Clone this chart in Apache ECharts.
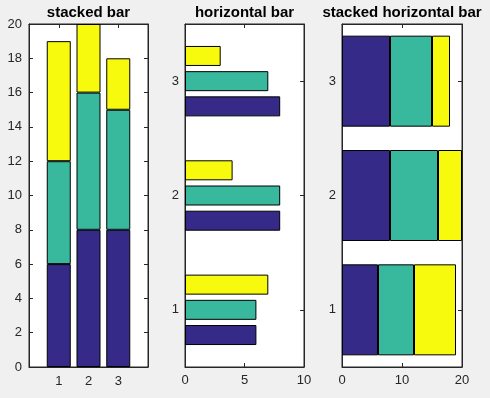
<!DOCTYPE html>
<html>
<head>
<meta charset="utf-8">
<script src="https://cdn.jsdelivr.net/npm/echarts@6/dist/echarts.min.js"></script>
<style>
  html, body { margin: 0; padding: 0; background: #f0f0f0; }
  #main { width: 490px; height: 398px; }
</style>
</head>
<body>
<div id="main"></div>
<script>
// data
var categories = ['1', '2', '3'];
var seriesA = [6, 8, 8];   // purple
var seriesB = [6, 8, 7];   // teal
var seriesC = [7, 4, 3];   // yellow
var colors = ['#352a87', '#38b99e', '#f8fa0d'];

// first plot uses xlim [0,4] -> pad the categories with empty slots at both ends
var paddedCats = ['0'].concat(categories, ['4']);
function pad(arr) { return [null].concat(arr, [null]); }

var ink = '#262626';
var font = 'Liberation Sans, Arial, sans-serif';

var chart = echarts.init(document.getElementById('main'));

var grids = [
  { left: 29, top: 24, width: 119, height: 343 },
  { left: 185, top: 24, width: 119, height: 343 },
  { left: 342, top: 24, width: 120, height: 343 }
];
grids.forEach(function (g) {
  g.show = true;
  g.backgroundColor = '#fff';
  g.borderColor = ink;
  g.borderWidth = 1;
});

var tick = { show: true, inside: true, length: 4, lineStyle: { color: ink } };
var lbl = { color: ink, fontSize: 13, fontFamily: font };
var line = { show: true, onZero: false, lineStyle: { color: ink } };

function valAxis(grid, pos, max, interval, showLabel) {
  return {
    type: 'value', gridIndex: grid, position: pos, min: 0, max: max, interval: interval,
    axisLine: line, axisTick: tick, splitLine: { show: false },
    axisLabel: Object.assign({ show: showLabel, margin: 7 }, lbl)
  };
}
// ticks on the label side sit under the bars in matlab, so only the far side shows them
function catAxis(grid, pos, showLabel) {
  return {
    type: 'category', gridIndex: grid, position: pos, data: categories,
    axisLine: line,
    axisTick: Object.assign({ alignWithLabel: true }, tick, { show: !showLabel }),
    axisLabel: Object.assign({ show: showLabel, margin: 6 }, lbl)
  };
}
function padAxis(grid, pos, showLabel) {
  return {
    type: 'category', gridIndex: grid, position: pos, data: paddedCats, boundaryGap: false,
    axisLine: line,
    axisTick: Object.assign({ interval: 0 }, tick, { show: !showLabel }),
    axisLabel: Object.assign({
      show: showLabel, margin: 8, interval: 0,
      formatter: function (v) { return categories.indexOf(v) >= 0 ? v : ''; }
    }, lbl)
  };
}

var edge = { borderColor: '#000', borderWidth: 1 };

function titleAt(text, g) {
  return {
    text: text, left: g.left + g.width / 2, top: 5, textAlign: 'center', padding: 0,
    textStyle: { fontSize: 15, fontWeight: 'bold', color: '#000', fontFamily: font }
  };
}

function bar(xi, yi, vals, color, extra) {
  return Object.assign({
    type: 'bar', xAxisIndex: xi, yAxisIndex: yi, data: vals,
    itemStyle: Object.assign({ color: color }, edge)
  }, extra);
}

var option = {
  backgroundColor: '#f0f0f0',
  animation: false,
  title: [
    titleAt('stacked bar', grids[0]),
    titleAt('horizontal bar', grids[1]),
    titleAt('stacked horizontal bar', grids[2])
  ],
  grid: grids,
  xAxis: [
    padAxis(0, 'bottom', true), padAxis(0, 'top', false),
    valAxis(1, 'bottom', 10, 5, true), valAxis(1, 'top', 10, 5, false),
    valAxis(2, 'bottom', 20, 10, true), valAxis(2, 'top', 20, 10, false)
  ],
  yAxis: [
    valAxis(0, 'left', 20, 2, true), valAxis(0, 'right', 20, 2, false),
    catAxis(1, 'left', true), catAxis(1, 'right', false),
    catAxis(2, 'left', true), catAxis(2, 'right', false)
  ],
  series: [
    // stacked bar
    bar(0, 0, pad(seriesA), colors[0], { stack: 's1', barWidth: 24 }),
    bar(0, 0, pad(seriesB), colors[1], { stack: 's1', barWidth: 24 }),
    bar(0, 0, pad(seriesC), colors[2], { stack: 's1', barWidth: 24 }),
    // horizontal grouped bar (echarts puts the first series on top, so reverse)
    bar(2, 2, seriesC, colors[2], { barWidth: 20, barGap: '26%' }),
    bar(2, 2, seriesB, colors[1], { barWidth: 20, barGap: '26%' }),
    bar(2, 2, seriesA, colors[0], { barWidth: 20, barGap: '26%' }),
    // stacked horizontal bar
    bar(4, 4, seriesA, colors[0], { stack: 's3', barWidth: 91 }),
    bar(4, 4, seriesB, colors[1], { stack: 's3', barWidth: 91 }),
    bar(4, 4, seriesC, colors[2], { stack: 's3', barWidth: 91 })
  ]
};

chart.setOption(option);
</script>
</body>
</html>
